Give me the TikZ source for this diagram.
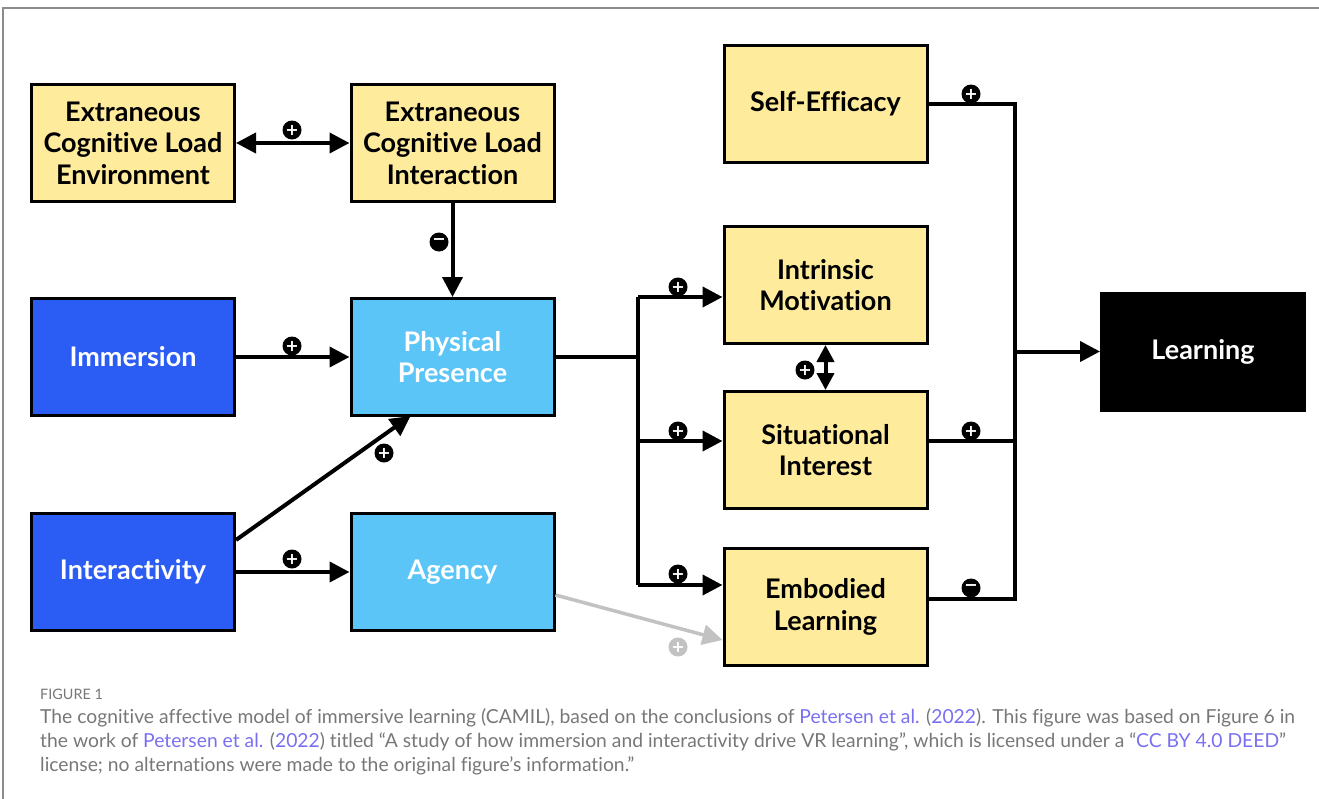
\documentclass[tikz,border=0pt]{standalone}
\usepackage{fontspec}
\setmainfont{Lato}[Ligatures=NoCommon]
\newfontfamily\boxfont{Lato}[Ligatures=NoCommon]
\newfontfamily\signfont{DejaVu Sans}
\usetikzlibrary{arrows.meta,calc}
\definecolor{ylw}{HTML}{FFEB9C}
\definecolor{dblue}{HTML}{2B5CF4}
\definecolor{lblue}{HTML}{5BC5F7}
\definecolor{capgray}{HTML}{777777}
\definecolor{linkc}{HTML}{7A6FF0}
\definecolor{lgray}{HTML}{C2C2C2}
\tikzset{
  box/.style={draw=black,line width=3pt,minimum width=203pt,minimum height=117pt,inner sep=0pt,
    font=\boxfont\bfseries\fontsize{27}{31.5}\selectfont,align=center,
    execute at begin node={\vspace*{6pt}}},
  ybox/.style={box,fill=ylw},
  dbox/.style={box,fill=dblue,text=white},
  lbox/.style={box,fill=lblue,text=white},
  kbox/.style={box,fill=black,text=white},
  conn/.style={line width=4pt},
  arr/.style={conn,-{Triangle[length=20pt,width=20pt]}},
  darr/.style={conn,{Triangle[length=20pt,width=20pt]}-{Triangle[length=20pt,width=20pt]}},
  sarr/.style={conn,{Triangle[length=17pt,width=17pt]}-{Triangle[length=17pt,width=17pt]}},
  garr/.style={line width=3.5pt,lgray,-{Triangle[length=20pt,width=20pt]}},
  sign/.style={circle,fill=black,text=white,minimum size=19pt,inner sep=0pt,
    font=\signfont\bfseries\fontsize{16}{16}\selectfont},
  gsign/.style={sign,fill=lgray},
  captext/.style={anchor=base west,inner sep=0pt,text=capgray,font=\fontsize{19.3}{22}\selectfont}
}
\begin{document}
\begin{tikzpicture}[x=1pt,y=-1pt]
\useasboundingbox (0,0) rectangle (1319,798);
\draw[color=gray!90,line width=2pt] (3,800) -- (3,8) -- (1322,8);

% nodes
\node[ybox] (env) at (133,143) {Extraneous\\Cognitive Load\\Environment};
\node[ybox] (int) at (452.5,143) {Extraneous\\Cognitive Load\\Interaction};
\node[ybox] (se) at (825.5,104) {Self-Efficacy};
\node[dbox] (imm) at (133,357) {Immersion};
\node[lbox] (pp) at (452.5,357) {Physical\\Presence};
\node[ybox] (im) at (825.5,285) {Intrinsic\\Motivation};
\node[kbox] (learn) at (1203,351.5) {Learning};
\node[ybox] (si) at (825.5,450) {Situational\\Interest};
\node[dbox] (inter) at (133,572) {Interactivity};
\node[lbox] (ag) at (452.5,572) {Agency};
\node[ybox] (el) at (825.5,607) {Embodied\\Learning};

% left connectors
\draw[darr] (env.east) -- (int.west);
\draw[arr] (int.south) -- (pp.north);
\draw[arr] (imm.east) -- (pp.west);
\draw[arr] ([yshift=32pt]inter.east) -- ([xshift=-42pt,yshift=1pt]pp.south);
\draw[arr] (inter.east) -- (ag.west);
\draw[garr] ([yshift=-23pt]ag.east) -- ([yshift=-33pt]el.west);

% branch from physical presence
\coordinate (j1) at (638,357);
\coordinate (b1) at (638,297);
\coordinate (b2) at (638,441);
\coordinate (b3) at (638,585);
\draw[conn] (pp.east) -- (j1);
\draw[conn] (b1) -- (b3);
\draw[arr] (b1) -- (b1 -| im.west);
\draw[arr] (b2) -- (b2 -| si.west);
\draw[arr] (b3) -- (b3 -| el.west);
\draw[sarr] (im.south) -- (si.north);

% right collector
\coordinate (r1) at (1015,104);
\coordinate (r2) at (1015,441);
\coordinate (r3) at (1015,599);
\coordinate (r0) at (1015,351.5);
\draw[conn] (se.east) -- (r1);
\draw[conn] (r2 -| si.east) -- (r2);
\draw[conn] (r3 -| el.east) -- (r3);
\draw[conn] ([yshift=2pt]r1) -- ([yshift=-2pt]r3);
\draw[arr] (r0) -- (learn.west);

% signs
\node[sign] (s1) at (292,130) {+};
\node[sign] (s2) at (439,242) {\raisebox{0.5pt}{−}};
\node[sign] (s3) at (292,346) {+};
\node[sign] (s4) at (384,453) {+};
\node[sign] (s5) at (292,559) {+};
\node[sign] (s6) at (678,287) {+};
\node[sign] (s7) at (678,431) {+};
\node[sign] (s8) at (678,574) {+};
\node[sign] (s9) at (805,370) {+};
\node[sign] (s10) at (971,94) {+};
\node[sign] (s11) at (971,431) {+};
\node[sign] (s12) at (971,588) {\raisebox{0.5pt}{−}};
\node[gsign] (s13) at (678,647) {+};

% caption
\node[captext,font=\fontsize{14.4}{16}\selectfont] (fig) at (40,699) {FIGURE 1};
\node[captext] (c1) at (40,723) {The cognitive affective model of immersive learning (CAMIL), based on the conclusions of \textcolor{linkc}{Petersen et al.} (\textcolor{linkc}{2022}). This figure was based on Figure 6 in};
\node[captext] (c2) at (40,747) {the work of \textcolor{linkc}{Petersen et al.} (\textcolor{linkc}{2022}) titled “A study of how immersion and interactivity drive VR learning”, which is licensed under a “\textcolor{linkc}{CC BY 4.0 DEED}”};
\node[captext] (c3) at (40,771) {license; no alternations were made to the original figure’s information.”};
\end{tikzpicture}
\end{document}
